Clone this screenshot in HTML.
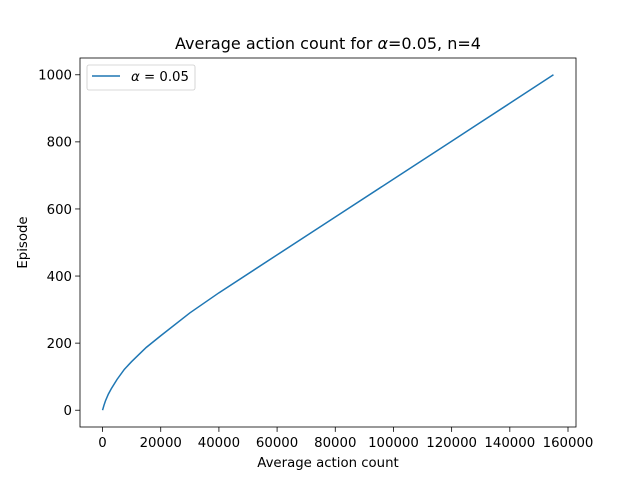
<!DOCTYPE html>
<html><head><meta charset="utf-8"><style>
body{margin:0;background:#fff;}
svg text{font-family:"DejaVu Sans","Liberation Sans",sans-serif;fill:#000;}
</style></head><body>
<svg width="640" height="480" xmlns="http://www.w3.org/2000/svg">
<rect width="640" height="480" fill="#fff"/>
<text x="328" y="49" font-size="16" text-anchor="middle">Average action count for <tspan font-style="italic">α</tspan>=0.05, n=4</text>
<g id="plot"></g>
<text x="328" y="467" font-size="13.3" text-anchor="middle">Average action count</text>
<text transform="translate(27,242.5) rotate(-90)" font-size="13.3" text-anchor="middle">Episode</text>
</svg>
<script>
const xs=[0,500,1000,2000,3000,5000,7500,10000,15000,20000,30000,40000,60000,80000,100000,120000,140000,155000];
const ys=[0,15,28,48,64,92,122,145,187,222,290,350,463,576,689,802,915,1000];
const xTicks=[0,20000,40000,60000,80000,100000,120000,140000,160000];
const yTicks=[0,200,400,600,800,1000];
const L=80,R=576,T=58,B=427,x0=-7750,x1=162750,y0=-50,y1=1050;
const sx=v=>L+(v-x0)/(x1-x0)*(R-L);
const sy=v=>B-(v-y0)/(y1-y0)*(B-T);
const NS='http://www.w3.org/2000/svg';
const g=document.getElementById('plot');
function mk(t,a,p){const e=document.createElementNS(NS,t);for(const k in a)e.setAttribute(k,a[k]);(p||g).appendChild(e);return e;}
const line=mk('polyline',{points:xs.map((x,i)=>sx(x)+','+sy(ys[i])).join(' '),fill:'none',stroke:'#1f77b4','stroke-width':1.5});


xTicks.forEach(t=>{const X=sx(t);mk('line',{x1:X,x2:X,y1:B,y2:B+4.9,stroke:'#000','stroke-width':0.8});
const tx=mk('text',{x:X,y:B+20,'font-size':13.3,'text-anchor':'middle'});tx.textContent=t;

});
yTicks.forEach(t=>{const Y=sy(t);mk('line',{x1:L-4.9,x2:L,y1:Y,y2:Y,stroke:'#000','stroke-width':0.8});
const tx=mk('text',{x:L-8,y:Y+4.8,'font-size':13.3,'text-anchor':'end'});tx.textContent=t;

});
const fr=mk('rect',{x:L,y:T,width:R-L,height:B-T,fill:'none',stroke:'#000','stroke-width':0.8});


const lg=mk('g',{});


mk('rect',{x:87,y:65,width:108,height:25,rx:2,fill:'#fff',stroke:'#ccc','stroke-width':0.8},lg);
mk('line',{x1:92,x2:120,y1:76,y2:76,stroke:'#1f77b4','stroke-width':1.5},lg);
const lt=mk('text',{x:131,y:81,'font-size':13.3},lg);
lt.innerHTML='<tspan font-style="italic">α</tspan> = 0.05';
</script>
</body></html>
